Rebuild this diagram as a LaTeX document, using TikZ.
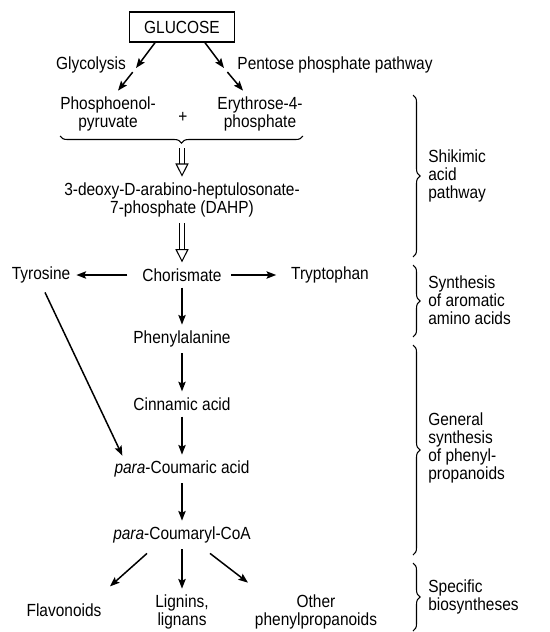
\documentclass[tikz,border=0pt]{standalone}
\usepackage{fontspec}
\setmainfont{Liberation Sans}[FakeStretch=0.88]
\usetikzlibrary{arrows.meta, decorations.pathreplacing, calc}

\begin{document}
\begin{tikzpicture}[x=0.02cm, y=-0.02cm, font=\fontsize{10}{10.2}\selectfont,
		arr/.style={-{Stealth[length=5.5pt, width=4.2pt, inset=1pt]}, line width=0.85pt},
		openarr/.style={double, double distance=2.4pt, line width=0.6pt, -{Triangle[open, length=7.5pt, width=7.5pt]}},
		brc/.style={decorate, decoration={brace, amplitude=4pt}, line width=0.6pt},
		lbl/.style={anchor=west, align=left, inner sep=0pt}]
		\useasboundingbox (0,0) rectangle (550,632);
		
		\node[draw, line width=0.8pt, minimum width=2.1cm, minimum height=0.6cm] (glc) at (182,27) {GLUCOSE};
		\node (gly) at (91,65) {Glycolysis};
		\node (ppp) at (335,65) {Pentose phosphate pathway};
		\node[align=center] (pep) at (108,114) {Phosphoenol-\\pyruvate};
		\node (plus) at (183,117) {+};
		\node[align=center] (ery) at (260,114) {Erythrose-4-\\phosphate};
		\node[align=center] (dahp) at (182,200) {3-deoxy-D-arabino-heptulosonate-\\7-phosphate (DAHP)};
		\node (chor) at (182,275) {Chorismate};
		\node (tyr) at (41,275) {Tyrosine};
		\node (trp) at (330,275) {Tryptophan};
		\node (phe) at (182,339) {Phenylalanine};
		\node (cin) at (182,404) {Cinnamic acid};
		\node (pcou) at (182,469) {\textit{para}-Coumaric acid};
		\node (pcoa) at (182,535) {\textit{para}-Coumaryl-CoA};
		\node (flav) at (64,610) {Flavonoids};
		\node[align=center] (lig) at (182,612) {Lignins,\\lignans};
		\node[align=center] (oth) at (316,612) {Other\\phenylpropanoids};
		
		\coordinate (glymid) at (136,68);
		\coordinate (pppmid) at (224,68);
		\coordinate (brtip) at (182,148);
		
		\draw[arr] ($(glc.south)+(-27,0)$) -- (glymid);
		\draw[arr, shorten <=3pt] (glymid) -- ($(pep.north)+(10,0)$);
		\draw[arr] ($(glc.south)+(23,0)$) -- (pppmid);
		\draw[arr, shorten <=3pt] (pppmid) -- ($(ery.north)+(-17,0)$);
		
		\draw[brc, decoration={mirror}] (60,136) -- (303,136);
		\draw[openarr] (brtip) -- (dahp);
		\draw[openarr] (dahp) -- (chor);
		
		\draw[arr, shorten <=5pt] (chor) -- (tyr);
		\draw[arr, shorten <=2pt, shorten >=5pt] (chor) -- (trp);
		\draw[arr] (chor) -- (phe);
		\draw[arr] (phe) -- (cin);
		\draw[arr] (cin) -- (pcou);
		\draw[arr] (pcou) -- (pcoa);
		\draw[arr] ($(tyr.south)+(4,3)$) -- ($(pcou.north west)+(14,1)$);
		
		\draw[arr] ($(pcoa.south)+(-35,4)$) -- ($(flav.north)+(46,-11)$);
		\draw[arr] (pcoa) -- (lig);
		\draw[arr] ($(pcoa.south)+(28,4)$) -- ($(oth.north)+(-68,-6)$);
		
		% right-hand braces
		\draw[brc] (413,95) -- (413,257);
		\draw[brc] (413,265) -- (413,337);
		\draw[brc] (413,345) -- (413,555);
		\draw[brc] (413,563) -- (413,631);
		\node[lbl] (shik) at (428,176) {Shikimic\\acid\\pathway};
		\node[lbl] (syn) at (428,300) {Synthesis\\of aromatic\\amino acids};
		\node[lbl] (gen) at (428,448) {General\\synthesis\\of phenyl-\\propanoids};
		\node[lbl] (spec) at (428,597) {Specific\\biosyntheses};
		
\end{tikzpicture}
\end{document}
